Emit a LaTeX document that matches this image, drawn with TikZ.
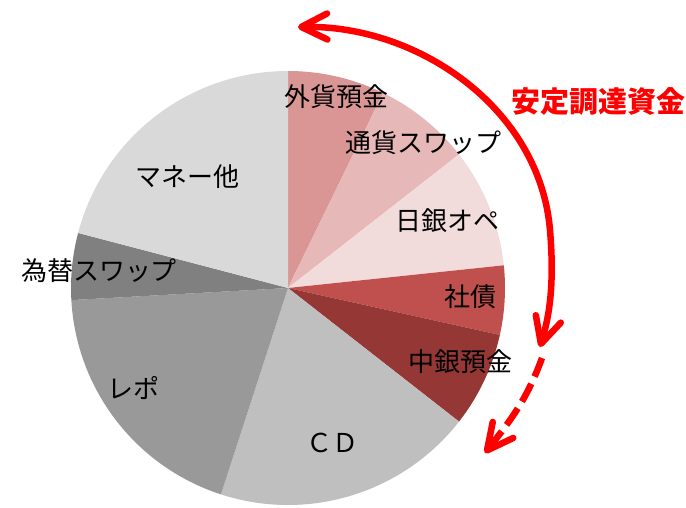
\documentclass[tikz,border=0pt]{standalone}
\usepackage{fontspec}
\setmainfont{Noto Sans CJK JP}
\usetikzlibrary{arrows.meta}
\definecolor{gaika}{HTML}{D99694}
\definecolor{tsuka}{HTML}{E6B9B8}
\definecolor{nichigin}{HTML}{F2DCDB}
\definecolor{shasai}{HTML}{C0504D}
\definecolor{chugin}{HTML}{953735}
\definecolor{cd}{HTML}{BFBFBF}
\definecolor{repo}{HTML}{999999}
\definecolor{kawase}{HTML}{808080}
\definecolor{money}{HTML}{D9D9D9}
\tikzset{
	lbl/.style={font=\fontsize{26}{30}\selectfont, inner sep=0pt},
	flow/.style={red, line width=6.5pt, line cap=round,
		>={Straight Barb[length=26pt, width=26pt, line cap=round, line join=round]}}
}
\begin{document}
\begin{tikzpicture}[x=1pt, y=1pt]
	\useasboundingbox (0,0) rectangle (686,507);
	\coordinate (o) at (288,219);
	% slices, clockwise from the top
	\foreach \a/\b/\c in {90/64/gaika, 64/38/tsuka, 38/6/nichigin, 6/-12.5/shasai,
		-12.5/-38/chugin, -38/-108/cd, -108/-176.8/repo, -176.8/-194.7/kawase, -194.7/-270/money}{
		\fill[\c] (o) -- ++(\a:217) arc[start angle=\a, end angle=\b, radius=217] -- cycle;
	}
	% labels
	\foreach \n/\x/\y/\t in {l1/336/410/外貨預金, l2/423/364/通貨スワップ, l3/447/286/日銀オペ,
		l4/470/210/社債, l5/460/145/中銀預金, l6/332/64/ＣＤ, l7/133/119/レポ,
		l8/99/236/為替スワップ, l9/187/330/マネー他}{
		\node[lbl] (\n) at (\x,\y) {\t};
	}
	\node[red, font=\fontsize{29}{33}\selectfont\bfseries, inner sep=0pt] (stable) at (598,405) {安定調達資金};
	% arrows
	\coordinate (top) at (298,480);
	\coordinate (side) at (550,277);
	\coordinate (low) at (540,160);
	\coordinate (dashs) at (542,149);
	\coordinate (dashe) at (485,54);
	\draw[flow, <->] (top) .. controls (420,482) and (540,397) .. (side)
		.. controls (555,217) and (548,187) .. (low);
	\draw[flow, ->, line cap=butt, dash pattern=on 20pt off 8pt] (dashs) to[out=-110, in=52] (dashe);
\end{tikzpicture}
\end{document}
